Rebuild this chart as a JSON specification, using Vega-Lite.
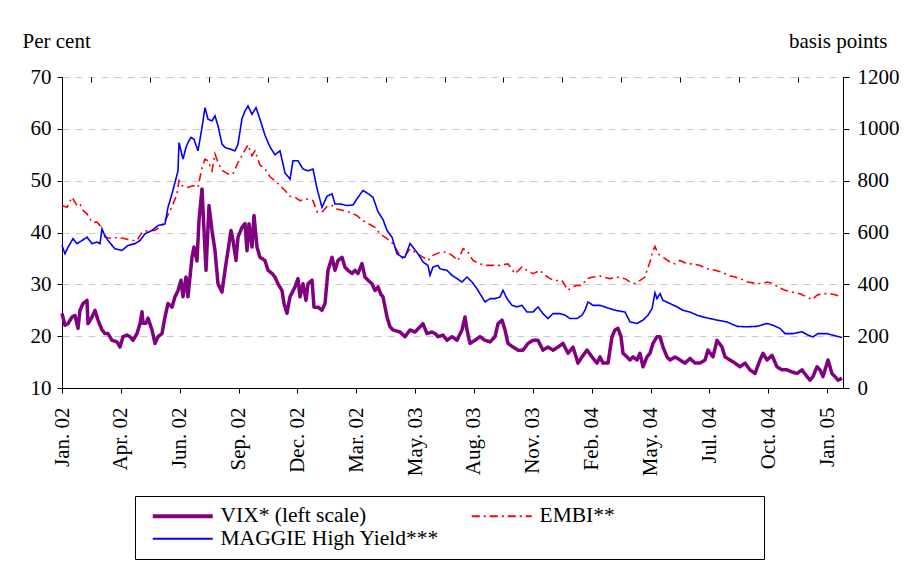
{
 "$schema": "https://vega.github.io/schema/vega-lite/v6.json",
 "width": 781, "height": 311,
 "autosize": {"type": "none"},
 "padding": {"left": 62, "top": 77, "right": 63, "bottom": 180},
 "background": "white",
 "config": {
  "font": "Liberation Serif",
  "view": {"stroke": null},
  "axis": {"labelFont": "Liberation Serif", "labelFontSize": 21, "labelColor": "black", "titleFont": "Liberation Serif", "titleFontSize": 21, "titleFontWeight": "normal", "titleColor": "black", "domainColor": "black", "tickColor": "black", "domainWidth": 1, "tickWidth": 1, "labelFlush": false, "labelOverlap": false},
  "legend": {"orient": "none", "legendX": 73, "legendY": 419, "direction": "horizontal", "columns": 2, "gridAlign": "all", "strokeColor": "black", "padding": 9, "labelFont": "Liberation Serif", "labelFontSize": 21.5, "labelColor": "black", "symbolType": "M-3,0H3", "symbolSize": 400, "symbolOffset": 28, "labelOffset": 27, "columnPadding": 23, "rowPadding": 0, "symbolStrokeWidth": 2, "labelLimit": 400}
 },
 "datasets": {"all": [
{"s":"VIX","d":0,"v":24.4},{"s":"VIX","d":3,"v":22.1},{"s":"VIX","d":6,"v":22.4},{"s":"VIX","d":10,"v":23.7},{"s":"VIX","d":13,"v":24},{"s":"VIX","d":16,"v":21.5},{"s":"VIX","d":18,"v":25},{"s":"VIX","d":21,"v":26.3},{"s":"VIX","d":25,"v":26.9},{"s":"VIX","d":26,"v":22.4},{"s":"VIX","d":30,"v":23.7},{"s":"VIX","d":33,"v":25},{"s":"VIX","d":36,"v":23.1},{"s":"VIX","d":40,"v":21.2},{"s":"VIX","d":43,"v":20.5},{"s":"VIX","d":46,"v":20.5},{"s":"VIX","d":50,"v":19.2},{"s":"VIX","d":55,"v":18.9},{"s":"VIX","d":58,"v":17.9},{"s":"VIX","d":61,"v":19.9},{"s":"VIX","d":65,"v":20.2},{"s":"VIX","d":68,"v":19.9},{"s":"VIX","d":71,"v":19.2},{"s":"VIX","d":75,"v":20.5},{"s":"VIX","d":78,"v":22.4},{"s":"VIX","d":80,"v":24.7},{"s":"VIX","d":81,"v":22.5},{"s":"VIX","d":84,"v":22.5},{"s":"VIX","d":86,"v":23.5},{"s":"VIX","d":90,"v":21.2},{"s":"VIX","d":93,"v":18.6},{"s":"VIX","d":96,"v":19.9},{"s":"VIX","d":100,"v":20.5},{"s":"VIX","d":103,"v":23.7},{"s":"VIX","d":106,"v":26.3},{"s":"VIX","d":110,"v":25.6},{"s":"VIX","d":113,"v":27.6},{"s":"VIX","d":116,"v":28.8},{"s":"VIX","d":119,"v":30.8},{"s":"VIX","d":121,"v":27.6},{"s":"VIX","d":124,"v":31.4},{"s":"VIX","d":126,"v":27.6},{"s":"VIX","d":130,"v":35.2},{"s":"VIX","d":132,"v":37.2},{"s":"VIX","d":135,"v":34.5},{"s":"VIX","d":137,"v":42.3},{"s":"VIX","d":140,"v":48.4},{"s":"VIX","d":142,"v":40.4},{"s":"VIX","d":144,"v":32.7},{"s":"VIX","d":147,"v":45.2},{"s":"VIX","d":150,"v":40.4},{"s":"VIX","d":153,"v":36.5},{"s":"VIX","d":156,"v":30.1},{"s":"VIX","d":160,"v":28.5},{"s":"VIX","d":163,"v":32.7},{"s":"VIX","d":166,"v":36.5},{"s":"VIX","d":169,"v":40.4},{"s":"VIX","d":171,"v":38.5},{"s":"VIX","d":174,"v":34.6},{"s":"VIX","d":176,"v":39.1},{"s":"VIX","d":180,"v":41},{"s":"VIX","d":183,"v":41.7},{"s":"VIX","d":185,"v":36.5},{"s":"VIX","d":187,"v":41.7},{"s":"VIX","d":190,"v":37.2},{"s":"VIX","d":192,"v":43.3},{"s":"VIX","d":195,"v":37.2},{"s":"VIX","d":198,"v":35.2},{"s":"VIX","d":203,"v":34.6},{"s":"VIX","d":206,"v":32.7},{"s":"VIX","d":210,"v":32.1},{"s":"VIX","d":213,"v":31.4},{"s":"VIX","d":216,"v":30.1},{"s":"VIX","d":220,"v":28.8},{"s":"VIX","d":222,"v":26.3},{"s":"VIX","d":225,"v":24.4},{"s":"VIX","d":228,"v":27.6},{"s":"VIX","d":233,"v":29.5},{"s":"VIX","d":236,"v":31.1},{"s":"VIX","d":238,"v":27.6},{"s":"VIX","d":241,"v":30.1},{"s":"VIX","d":244,"v":26.9},{"s":"VIX","d":246,"v":30.1},{"s":"VIX","d":250,"v":30.8},{"s":"VIX","d":252,"v":25.6},{"s":"VIX","d":256,"v":25.6},{"s":"VIX","d":260,"v":25},{"s":"VIX","d":263,"v":26.3},{"s":"VIX","d":266,"v":32.7},{"s":"VIX","d":270,"v":35.2},{"s":"VIX","d":273,"v":32.7},{"s":"VIX","d":276,"v":34.6},{"s":"VIX","d":280,"v":35.2},{"s":"VIX","d":283,"v":33.3},{"s":"VIX","d":286,"v":32.7},{"s":"VIX","d":290,"v":32.1},{"s":"VIX","d":293,"v":32.7},{"s":"VIX","d":296,"v":32.1},{"s":"VIX","d":300,"v":34},{"s":"VIX","d":303,"v":31.4},{"s":"VIX","d":306,"v":30.8},{"s":"VIX","d":310,"v":30.1},{"s":"VIX","d":313,"v":28.8},{"s":"VIX","d":316,"v":29.5},{"s":"VIX","d":319,"v":28},{"s":"VIX","d":321,"v":27.6},{"s":"VIX","d":325,"v":23.7},{"s":"VIX","d":328,"v":21.8},{"s":"VIX","d":331,"v":21.2},{"s":"VIX","d":338,"v":20.8},{"s":"VIX","d":343,"v":19.9},{"s":"VIX","d":348,"v":21.2},{"s":"VIX","d":353,"v":20.8},{"s":"VIX","d":358,"v":21.8},{"s":"VIX","d":361,"v":22.4},{"s":"VIX","d":365,"v":20.5},{"s":"VIX","d":370,"v":20.8},{"s":"VIX","d":373,"v":20.5},{"s":"VIX","d":376,"v":19.9},{"s":"VIX","d":381,"v":20.2},{"s":"VIX","d":385,"v":19.2},{"s":"VIX","d":390,"v":19.9},{"s":"VIX","d":395,"v":19.2},{"s":"VIX","d":400,"v":21.2},{"s":"VIX","d":403,"v":23.7},{"s":"VIX","d":405,"v":21.2},{"s":"VIX","d":408,"v":18.6},{"s":"VIX","d":413,"v":19.2},{"s":"VIX","d":418,"v":19.9},{"s":"VIX","d":423,"v":19.2},{"s":"VIX","d":428,"v":18.9},{"s":"VIX","d":433,"v":19.9},{"s":"VIX","d":436,"v":22.4},{"s":"VIX","d":440,"v":23.1},{"s":"VIX","d":443,"v":21.2},{"s":"VIX","d":446,"v":18.6},{"s":"VIX","d":451,"v":17.9},{"s":"VIX","d":456,"v":17.3},{"s":"VIX","d":461,"v":17.3},{"s":"VIX","d":466,"v":18.6},{"s":"VIX","d":471,"v":19.2},{"s":"VIX","d":476,"v":19.2},{"s":"VIX","d":481,"v":17.3},{"s":"VIX","d":486,"v":17.9},{"s":"VIX","d":491,"v":17.3},{"s":"VIX","d":496,"v":17.9},{"s":"VIX","d":501,"v":18.6},{"s":"VIX","d":506,"v":16.7},{"s":"VIX","d":511,"v":17.9},{"s":"VIX","d":516,"v":14.8},{"s":"VIX","d":520,"v":16},{"s":"VIX","d":525,"v":17.3},{"s":"VIX","d":530,"v":16},{"s":"VIX","d":535,"v":14.8},{"s":"VIX","d":538,"v":16},{"s":"VIX","d":541,"v":14.8},{"s":"VIX","d":546,"v":14.8},{"s":"VIX","d":550,"v":19.9},{"s":"VIX","d":553,"v":21.2},{"s":"VIX","d":556,"v":21.5},{"s":"VIX","d":559,"v":19.9},{"s":"VIX","d":561,"v":16.7},{"s":"VIX","d":565,"v":16},{"s":"VIX","d":568,"v":15.4},{"s":"VIX","d":571,"v":16},{"s":"VIX","d":575,"v":15.4},{"s":"VIX","d":578,"v":16.7},{"s":"VIX","d":581,"v":14.1},{"s":"VIX","d":585,"v":16},{"s":"VIX","d":588,"v":16.7},{"s":"VIX","d":591,"v":18.6},{"s":"VIX","d":595,"v":19.9},{"s":"VIX","d":598,"v":19.9},{"s":"VIX","d":601,"v":17.9},{"s":"VIX","d":605,"v":16},{"s":"VIX","d":608,"v":15.4},{"s":"VIX","d":613,"v":16},{"s":"VIX","d":618,"v":15.4},{"s":"VIX","d":623,"v":14.8},{"s":"VIX","d":628,"v":15.7},{"s":"VIX","d":633,"v":14.8},{"s":"VIX","d":638,"v":14.8},{"s":"VIX","d":643,"v":15.4},{"s":"VIX","d":646,"v":17.3},{"s":"VIX","d":651,"v":16},{"s":"VIX","d":655,"v":19.2},{"s":"VIX","d":660,"v":17.9},{"s":"VIX","d":663,"v":16},{"s":"VIX","d":668,"v":15.4},{"s":"VIX","d":673,"v":14.8},{"s":"VIX","d":678,"v":14.1},{"s":"VIX","d":683,"v":14.8},{"s":"VIX","d":688,"v":13.5},{"s":"VIX","d":693,"v":12.8},{"s":"VIX","d":698,"v":15.4},{"s":"VIX","d":701,"v":16.7},{"s":"VIX","d":705,"v":15.4},{"s":"VIX","d":710,"v":16.3},{"s":"VIX","d":715,"v":14.1},{"s":"VIX","d":720,"v":13.5},{"s":"VIX","d":725,"v":13.5},{"s":"VIX","d":730,"v":13.1},{"s":"VIX","d":735,"v":12.8},{"s":"VIX","d":740,"v":13.5},{"s":"VIX","d":745,"v":12.2},{"s":"VIX","d":748,"v":11.5},{"s":"VIX","d":751,"v":12.2},{"s":"VIX","d":755,"v":14.1},{"s":"VIX","d":758,"v":13.5},{"s":"VIX","d":761,"v":12.2},{"s":"VIX","d":766,"v":15.4},{"s":"VIX","d":770,"v":12.8},{"s":"VIX","d":773,"v":12.2},{"s":"VIX","d":776,"v":11.5},{"s":"VIX","d":780,"v":11.9},
{"s":"EMBI","d":0,"v":704},{"s":"EMBI","d":5,"v":697},{"s":"EMBI","d":10,"v":736},{"s":"EMBI","d":15,"v":704},{"s":"EMBI","d":18,"v":710},{"s":"EMBI","d":21,"v":685},{"s":"EMBI","d":25,"v":672},{"s":"EMBI","d":30,"v":640},{"s":"EMBI","d":35,"v":640},{"s":"EMBI","d":38,"v":627},{"s":"EMBI","d":43,"v":582},{"s":"EMBI","d":50,"v":576},{"s":"EMBI","d":56,"v":582},{"s":"EMBI","d":63,"v":576},{"s":"EMBI","d":70,"v":569},{"s":"EMBI","d":75,"v":569},{"s":"EMBI","d":80,"v":601},{"s":"EMBI","d":86,"v":608},{"s":"EMBI","d":93,"v":608},{"s":"EMBI","d":100,"v":627},{"s":"EMBI","d":105,"v":659},{"s":"EMBI","d":108,"v":685},{"s":"EMBI","d":111,"v":710},{"s":"EMBI","d":115,"v":749},{"s":"EMBI","d":117,"v":800},{"s":"EMBI","d":120,"v":781},{"s":"EMBI","d":123,"v":774},{"s":"EMBI","d":126,"v":774},{"s":"EMBI","d":131,"v":781},{"s":"EMBI","d":136,"v":774},{"s":"EMBI","d":140,"v":851},{"s":"EMBI","d":143,"v":883},{"s":"EMBI","d":146,"v":877},{"s":"EMBI","d":150,"v":838},{"s":"EMBI","d":153,"v":903},{"s":"EMBI","d":156,"v":870},{"s":"EMBI","d":160,"v":840},{"s":"EMBI","d":166,"v":826},{"s":"EMBI","d":171,"v":826},{"s":"EMBI","d":176,"v":870},{"s":"EMBI","d":180,"v":896},{"s":"EMBI","d":183,"v":918},{"s":"EMBI","d":186,"v":938},{"s":"EMBI","d":190,"v":896},{"s":"EMBI","d":193,"v":915},{"s":"EMBI","d":198,"v":860},{"s":"EMBI","d":203,"v":845},{"s":"EMBI","d":208,"v":815},{"s":"EMBI","d":213,"v":800},{"s":"EMBI","d":218,"v":781},{"s":"EMBI","d":223,"v":762},{"s":"EMBI","d":228,"v":740},{"s":"EMBI","d":233,"v":736},{"s":"EMBI","d":238,"v":723},{"s":"EMBI","d":245,"v":729},{"s":"EMBI","d":251,"v":723},{"s":"EMBI","d":255,"v":680},{"s":"EMBI","d":260,"v":678},{"s":"EMBI","d":265,"v":700},{"s":"EMBI","d":270,"v":704},{"s":"EMBI","d":275,"v":691},{"s":"EMBI","d":281,"v":685},{"s":"EMBI","d":288,"v":678},{"s":"EMBI","d":295,"v":665},{"s":"EMBI","d":301,"v":646},{"s":"EMBI","d":306,"v":635},{"s":"EMBI","d":313,"v":620},{"s":"EMBI","d":318,"v":595},{"s":"EMBI","d":325,"v":576},{"s":"EMBI","d":331,"v":557},{"s":"EMBI","d":336,"v":524},{"s":"EMBI","d":341,"v":499},{"s":"EMBI","d":348,"v":537},{"s":"EMBI","d":355,"v":518},{"s":"EMBI","d":361,"v":505},{"s":"EMBI","d":366,"v":492},{"s":"EMBI","d":371,"v":512},{"s":"EMBI","d":378,"v":524},{"s":"EMBI","d":385,"v":524},{"s":"EMBI","d":390,"v":512},{"s":"EMBI","d":396,"v":492},{"s":"EMBI","d":401,"v":537},{"s":"EMBI","d":405,"v":531},{"s":"EMBI","d":411,"v":492},{"s":"EMBI","d":418,"v":479},{"s":"EMBI","d":425,"v":473},{"s":"EMBI","d":431,"v":473},{"s":"EMBI","d":438,"v":473},{"s":"EMBI","d":446,"v":479},{"s":"EMBI","d":453,"v":441},{"s":"EMBI","d":460,"v":467},{"s":"EMBI","d":465,"v":454},{"s":"EMBI","d":471,"v":441},{"s":"EMBI","d":478,"v":454},{"s":"EMBI","d":483,"v":435},{"s":"EMBI","d":488,"v":422},{"s":"EMBI","d":493,"v":415},{"s":"EMBI","d":500,"v":415},{"s":"EMBI","d":506,"v":377},{"s":"EMBI","d":510,"v":390},{"s":"EMBI","d":515,"v":396},{"s":"EMBI","d":520,"v":396},{"s":"EMBI","d":525,"v":422},{"s":"EMBI","d":531,"v":428},{"s":"EMBI","d":538,"v":432},{"s":"EMBI","d":548,"v":422},{"s":"EMBI","d":555,"v":428},{"s":"EMBI","d":563,"v":422},{"s":"EMBI","d":568,"v":409},{"s":"EMBI","d":573,"v":403},{"s":"EMBI","d":578,"v":415},{"s":"EMBI","d":583,"v":428},{"s":"EMBI","d":585,"v":454},{"s":"EMBI","d":588,"v":486},{"s":"EMBI","d":591,"v":531},{"s":"EMBI","d":593,"v":546},{"s":"EMBI","d":596,"v":518},{"s":"EMBI","d":601,"v":505},{"s":"EMBI","d":608,"v":486},{"s":"EMBI","d":613,"v":479},{"s":"EMBI","d":618,"v":492},{"s":"EMBI","d":625,"v":479},{"s":"EMBI","d":631,"v":479},{"s":"EMBI","d":638,"v":473},{"s":"EMBI","d":645,"v":460},{"s":"EMBI","d":653,"v":454},{"s":"EMBI","d":660,"v":447},{"s":"EMBI","d":666,"v":435},{"s":"EMBI","d":673,"v":428},{"s":"EMBI","d":678,"v":422},{"s":"EMBI","d":686,"v":409},{"s":"EMBI","d":695,"v":403},{"s":"EMBI","d":701,"v":403},{"s":"EMBI","d":705,"v":409},{"s":"EMBI","d":711,"v":403},{"s":"EMBI","d":716,"v":390},{"s":"EMBI","d":723,"v":377},{"s":"EMBI","d":730,"v":370},{"s":"EMBI","d":738,"v":364},{"s":"EMBI","d":745,"v":351},{"s":"EMBI","d":750,"v":341},{"s":"EMBI","d":755,"v":358},{"s":"EMBI","d":760,"v":364},{"s":"EMBI","d":768,"v":364},{"s":"EMBI","d":775,"v":358},{"s":"EMBI","d":777,"v":351},
{"s":"MAGGIE","d":0,"v":550},{"s":"MAGGIE","d":3,"v":518},{"s":"MAGGIE","d":6,"v":543},{"s":"MAGGIE","d":11,"v":576},{"s":"MAGGIE","d":15,"v":557},{"s":"MAGGIE","d":20,"v":569},{"s":"MAGGIE","d":25,"v":582},{"s":"MAGGIE","d":30,"v":557},{"s":"MAGGIE","d":35,"v":563},{"s":"MAGGIE","d":38,"v":557},{"s":"MAGGIE","d":40,"v":614},{"s":"MAGGIE","d":42,"v":595},{"s":"MAGGIE","d":46,"v":569},{"s":"MAGGIE","d":53,"v":537},{"s":"MAGGIE","d":60,"v":531},{"s":"MAGGIE","d":66,"v":550},{"s":"MAGGIE","d":73,"v":557},{"s":"MAGGIE","d":78,"v":569},{"s":"MAGGIE","d":83,"v":595},{"s":"MAGGIE","d":90,"v":608},{"s":"MAGGIE","d":96,"v":627},{"s":"MAGGIE","d":103,"v":633},{"s":"MAGGIE","d":106,"v":697},{"s":"MAGGIE","d":110,"v":749},{"s":"MAGGIE","d":113,"v":793},{"s":"MAGGIE","d":116,"v":838},{"s":"MAGGIE","d":117,"v":947},{"s":"MAGGIE","d":119,"v":915},{"s":"MAGGIE","d":121,"v":883},{"s":"MAGGIE","d":124,"v":928},{"s":"MAGGIE","d":126,"v":947},{"s":"MAGGIE","d":129,"v":967},{"s":"MAGGIE","d":132,"v":960},{"s":"MAGGIE","d":136,"v":915},{"s":"MAGGIE","d":140,"v":1005},{"s":"MAGGIE","d":143,"v":1082},{"s":"MAGGIE","d":146,"v":1037},{"s":"MAGGIE","d":150,"v":1031},{"s":"MAGGIE","d":153,"v":1050},{"s":"MAGGIE","d":156,"v":1012},{"s":"MAGGIE","d":160,"v":941},{"s":"MAGGIE","d":163,"v":928},{"s":"MAGGIE","d":168,"v":922},{"s":"MAGGIE","d":173,"v":915},{"s":"MAGGIE","d":176,"v":941},{"s":"MAGGIE","d":180,"v":1040},{"s":"MAGGIE","d":183,"v":1069},{"s":"MAGGIE","d":186,"v":1088},{"s":"MAGGIE","d":190,"v":1056},{"s":"MAGGIE","d":194,"v":1082},{"s":"MAGGIE","d":198,"v":1037},{"s":"MAGGIE","d":203,"v":975},{"s":"MAGGIE","d":208,"v":930},{"s":"MAGGIE","d":213,"v":900},{"s":"MAGGIE","d":218,"v":915},{"s":"MAGGIE","d":223,"v":830},{"s":"MAGGIE","d":228,"v":806},{"s":"MAGGIE","d":231,"v":877},{"s":"MAGGIE","d":236,"v":877},{"s":"MAGGIE","d":241,"v":845},{"s":"MAGGIE","d":246,"v":838},{"s":"MAGGIE","d":251,"v":845},{"s":"MAGGIE","d":255,"v":770},{"s":"MAGGIE","d":260,"v":697},{"s":"MAGGIE","d":265,"v":740},{"s":"MAGGIE","d":270,"v":749},{"s":"MAGGIE","d":273,"v":710},{"s":"MAGGIE","d":278,"v":710},{"s":"MAGGIE","d":285,"v":704},{"s":"MAGGIE","d":291,"v":706},{"s":"MAGGIE","d":296,"v":736},{"s":"MAGGIE","d":301,"v":762},{"s":"MAGGIE","d":306,"v":750},{"s":"MAGGIE","d":311,"v":736},{"s":"MAGGIE","d":316,"v":680},{"s":"MAGGIE","d":321,"v":650},{"s":"MAGGIE","d":325,"v":608},{"s":"MAGGIE","d":330,"v":582},{"s":"MAGGIE","d":335,"v":518},{"s":"MAGGIE","d":340,"v":505},{"s":"MAGGIE","d":343,"v":505},{"s":"MAGGIE","d":348,"v":557},{"s":"MAGGIE","d":351,"v":543},{"s":"MAGGIE","d":356,"v":518},{"s":"MAGGIE","d":361,"v":486},{"s":"MAGGIE","d":366,"v":473},{"s":"MAGGIE","d":368,"v":435},{"s":"MAGGIE","d":371,"v":467},{"s":"MAGGIE","d":376,"v":473},{"s":"MAGGIE","d":378,"v":460},{"s":"MAGGIE","d":385,"v":454},{"s":"MAGGIE","d":390,"v":435},{"s":"MAGGIE","d":395,"v":422},{"s":"MAGGIE","d":400,"v":409},{"s":"MAGGIE","d":405,"v":428},{"s":"MAGGIE","d":410,"v":409},{"s":"MAGGIE","d":415,"v":383},{"s":"MAGGIE","d":420,"v":351},{"s":"MAGGIE","d":423,"v":332},{"s":"MAGGIE","d":428,"v":345},{"s":"MAGGIE","d":433,"v":345},{"s":"MAGGIE","d":438,"v":351},{"s":"MAGGIE","d":441,"v":377},{"s":"MAGGIE","d":445,"v":345},{"s":"MAGGIE","d":450,"v":319},{"s":"MAGGIE","d":455,"v":313},{"s":"MAGGIE","d":460,"v":319},{"s":"MAGGIE","d":465,"v":293},{"s":"MAGGIE","d":471,"v":293},{"s":"MAGGIE","d":476,"v":313},{"s":"MAGGIE","d":481,"v":287},{"s":"MAGGIE","d":486,"v":268},{"s":"MAGGIE","d":491,"v":287},{"s":"MAGGIE","d":498,"v":287},{"s":"MAGGIE","d":503,"v":281},{"s":"MAGGIE","d":508,"v":268},{"s":"MAGGIE","d":515,"v":268},{"s":"MAGGIE","d":520,"v":281},{"s":"MAGGIE","d":523,"v":300},{"s":"MAGGIE","d":526,"v":332},{"s":"MAGGIE","d":531,"v":319},{"s":"MAGGIE","d":538,"v":319},{"s":"MAGGIE","d":545,"v":310},{"s":"MAGGIE","d":553,"v":300},{"s":"MAGGIE","d":563,"v":293},{"s":"MAGGIE","d":568,"v":255},{"s":"MAGGIE","d":575,"v":249},{"s":"MAGGIE","d":581,"v":262},{"s":"MAGGIE","d":586,"v":281},{"s":"MAGGIE","d":590,"v":306},{"s":"MAGGIE","d":593,"v":367},{"s":"MAGGIE","d":595,"v":345},{"s":"MAGGIE","d":598,"v":364},{"s":"MAGGIE","d":601,"v":338},{"s":"MAGGIE","d":608,"v":326},{"s":"MAGGIE","d":615,"v":313},{"s":"MAGGIE","d":621,"v":300},{"s":"MAGGIE","d":628,"v":293},{"s":"MAGGIE","d":635,"v":281},{"s":"MAGGIE","d":641,"v":274},{"s":"MAGGIE","d":648,"v":268},{"s":"MAGGIE","d":655,"v":262},{"s":"MAGGIE","d":665,"v":255},{"s":"MAGGIE","d":675,"v":238},{"s":"MAGGIE","d":685,"v":236},{"s":"MAGGIE","d":695,"v":238},{"s":"MAGGIE","d":705,"v":249},{"s":"MAGGIE","d":711,"v":242},{"s":"MAGGIE","d":718,"v":230},{"s":"MAGGIE","d":723,"v":210},{"s":"MAGGIE","d":731,"v":210},{"s":"MAGGIE","d":740,"v":217},{"s":"MAGGIE","d":746,"v":204},{"s":"MAGGIE","d":751,"v":197},{"s":"MAGGIE","d":756,"v":210},{"s":"MAGGIE","d":765,"v":210},{"s":"MAGGIE","d":771,"v":204},{"s":"MAGGIE","d":780,"v":195}
 ]},
 "data": {"name": "all"},
 "resolve": {"scale": {"y": "independent"}, "axis": {"x": "independent"}},
 "layer": [
  {
   "transform": [{"filter": "datum.s == 'VIX'"}],
   "mark": {"type": "line", "strokeWidth": 3.5, "strokeJoin": "round"},
   "encoding": {
    "x": {"field": "d", "type": "quantitative", "scale": {"domain": [0, 781], "nice": false, "zero": false},
      "axis": {"values": [0, 58.85, 117.7, 176.55, 235.4, 294.25, 353.1, 411.95, 470.8, 529.65, 588.5, 647.35, 706.2, 765.05],
        "labelExpr": "['Jan. 02','Apr. 02','Jun. 02','Sep. 02','Dec. 02','Mar. 02','May. 03','Aug. 03','Nov. 03','Feb. 04','May. 04','Jul. 04','Oct. 04','Jan. 05'][round(datum.value / 58.85)]",
        "labelAngle": -90, "labelAlign": "right", "labelBaseline": "middle", "labelPadding": 14, "tickSize": 5, "grid": false, "title": null, "labelBound": false}},
    "y": {"field": "v", "type": "quantitative", "scale": {"domain": [10, 70], "nice": false, "zero": false},
      "axis": {"values": [10, 20, 30, 40, 50, 60, 70], "grid": true, "gridColor": "#c8c8c8", "gridDash": [7, 6], "gridWidth": 1, "tickSize": 5, "labelPadding": 6,
        "title": "Per cent", "titleAngle": 0, "titleX": -40, "titleY": -30, "titleAlign": "left", "titleBaseline": "alphabetic"}},
    "color": {"field": "s", "type": "nominal", "scale": {"domain": ["VIX", "EMBI", "MAGGIE"], "range": ["#800080", "#ff0000", "#0000ff"]},
      "legend": {"title": null, "gridAlign": "all", "labelFont": "Liberation Serif", "labelExpr": "datum.label == 'VIX' ? 'VIX* (left scale)' : datum.label == 'EMBI' ? 'EMBI**\u00a0\u00a0\u00a0\u00a0\u00a0\u00a0\u00a0\u00a0\u00a0\u00a0\u00a0\u00a0\u00a0\u00a0\u00a0\u00a0\u00a0\u00a0\u00a0\u00a0\u00a0\u00a0\u00a0\u2800' : 'MAGGIE High Yield***'",
        "encode": {"symbols": {"update": {"strokeWidth": {"signal": "datum.value == 'VIX' ? 4 : 2"}}}}}},
    "strokeDash": {"field": "s", "type": "nominal", "scale": {"domain": ["VIX", "EMBI", "MAGGIE"], "range": [[1, 0], [8, 4, 2, 4], [1, 0]]},
      "legend": {"title": null, "gridAlign": "all", "labelFont": "Liberation Serif", "labelExpr": "datum.label == 'VIX' ? 'VIX* (left scale)' : datum.label == 'EMBI' ? 'EMBI**\u00a0\u00a0\u00a0\u00a0\u00a0\u00a0\u00a0\u00a0\u00a0\u00a0\u00a0\u00a0\u00a0\u00a0\u00a0\u00a0\u00a0\u00a0\u00a0\u00a0\u00a0\u00a0\u00a0\u2800' : 'MAGGIE High Yield***'",
        "encode": {"symbols": {"update": {"strokeWidth": {"signal": "datum.value == 'VIX' ? 4 : 2"}}}}}}
   }
  },
  {
   "transform": [{"filter": "datum.s != 'VIX'"}],
   "mark": {"type": "line", "strokeWidth": 1.6},
   "encoding": {
    "x": {"field": "d", "type": "quantitative", "scale": {"domain": [0, 781], "nice": false, "zero": false},
      "axis": {"values": [29.43, 88.28, 147.13, 205.98, 264.83, 323.68, 382.53, 441.38, 500.23, 559.08, 617.93, 676.78, 735.63],
        "labels": false, "domain": false, "grid": false, "title": null, "tickSize": -5}},
    "y": {"field": "v", "type": "quantitative", "scale": {"domain": [0, 1200], "nice": false, "zero": false},
      "axis": {"orient": "right", "values": [0, 200, 400, 600, 800, 1000, 1200], "format": "d", "grid": false, "tickSize": 6, "labelPadding": 8,
        "title": "basis points", "titleAngle": 0, "titleX": 44, "titleY": -30, "titleAlign": "right", "titleBaseline": "alphabetic"}},
    "color": {"field": "s", "type": "nominal", "scale": {"domain": ["VIX", "EMBI", "MAGGIE"], "range": ["#800080", "#ff0000", "#0000ff"]},
      "legend": {"title": null, "gridAlign": "all", "labelFont": "Liberation Serif", "labelExpr": "datum.label == 'VIX' ? 'VIX* (left scale)' : datum.label == 'EMBI' ? 'EMBI**\u00a0\u00a0\u00a0\u00a0\u00a0\u00a0\u00a0\u00a0\u00a0\u00a0\u00a0\u00a0\u00a0\u00a0\u00a0\u00a0\u00a0\u00a0\u00a0\u00a0\u00a0\u00a0\u00a0\u2800' : 'MAGGIE High Yield***'",
        "encode": {"symbols": {"update": {"strokeWidth": {"signal": "datum.value == 'VIX' ? 4 : 2"}}}}}},
    "strokeDash": {"field": "s", "type": "nominal", "scale": {"domain": ["VIX", "EMBI", "MAGGIE"], "range": [[1, 0], [8, 4, 2, 4], [1, 0]]},
      "legend": {"title": null, "gridAlign": "all", "labelFont": "Liberation Serif", "labelExpr": "datum.label == 'VIX' ? 'VIX* (left scale)' : datum.label == 'EMBI' ? 'EMBI**\u00a0\u00a0\u00a0\u00a0\u00a0\u00a0\u00a0\u00a0\u00a0\u00a0\u00a0\u00a0\u00a0\u00a0\u00a0\u00a0\u00a0\u00a0\u00a0\u00a0\u00a0\u00a0\u00a0\u2800' : 'MAGGIE High Yield***'",
        "encode": {"symbols": {"update": {"strokeWidth": {"signal": "datum.value == 'VIX' ? 4 : 2"}}}}}}
   }
  }
 ]
}
